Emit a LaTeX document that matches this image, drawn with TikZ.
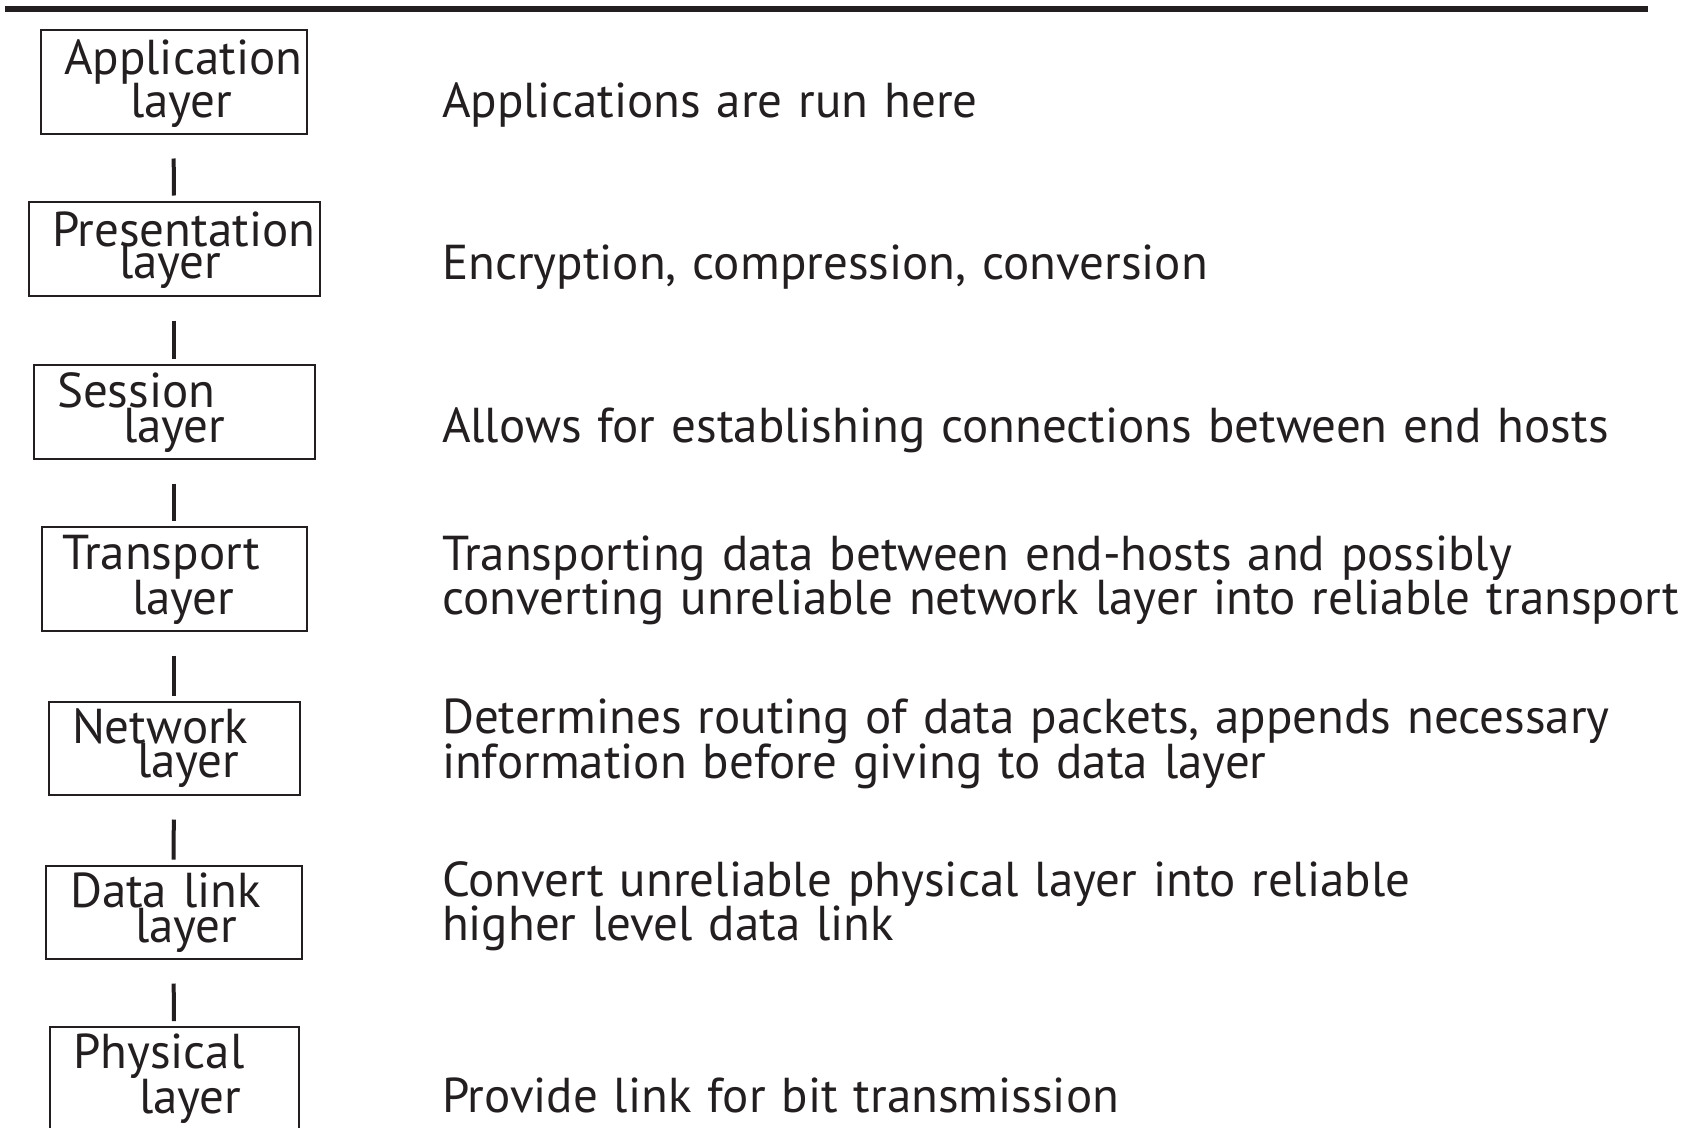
\documentclass[tikz,border=0pt]{standalone}
\usepackage{fontspec}
\setmainfont{PT Sans}[WordSpace=1.22]
\definecolor{ink}{HTML}{231F20}
\begin{document}
\begin{tikzpicture}[x=1pt,y=-1pt,
  box/.style={draw=ink,line width=2pt,rectangle,inner sep=0pt},
  lbl/.style={anchor=base west,inner sep=0pt,outer sep=0pt,text=ink,font=\fontsize{49}{49}\selectfont},
  lblA/.style={lbl,text depth=0pt},
  lblB/.style={lbl,text height=24pt},
  conn/.style={draw=ink,line width=4pt,shorten <=24pt,shorten >=5pt}]
\useasboundingbox (0,0) rectangle (1688,1127);
\clip (0,0) rectangle (1688,1127);
\fill[white] (0,0) rectangle (1688,1127);
% top rule
\coordinate (ruleL) at (5,9);
\coordinate (ruleR) at (1648,9);
\draw[ink,line width=6pt] (ruleL) -- (ruleR);
% boxes
\node[box,minimum width=266pt,minimum height=104pt] (app)  at (173.5,81.5) {};
\node[box,minimum width=291pt,minimum height=94pt]  (pres) at (174,248.5) {};
\node[box,minimum width=281pt,minimum height=94pt]  (sess) at (174,411.5) {};
\node[box,minimum width=265pt,minimum height=104pt] (trans) at (174,578.5) {};
\node[box,minimum width=251pt,minimum height=93pt]  (net)  at (174,748) {};
\node[box,minimum width=256pt,minimum height=93pt]  (data) at (173.5,912) {};
\node[box,minimum width=249pt,minimum height=140pt] (phys) at (174,1097) {};
% box labels
\node[lblA] (appA)  at (64,74)   {Application};
\node[lblB] (appB)  at (130,117) {layer};
\node[lblA] (presA) at (52,246)  {Presentation};
\node[lblB] (presB) at (119,278) {layer};
\node[lblA] (sessA) at (57,407)  {Session};
\node[lblB] (sessB) at (123,442) {layer};
\node[lblA] (transA) at (62,569) {Transport};
\node[lblB] (transB) at (132,614) {layer};
\node[lblA] (netA)  at (72,743)  {Network};
\node[lblB] (netB)  at (137,777) {layer};
\node[lblA] (dataA) at (70,907)  {Data link};
\node[lblB] (dataB) at (135,942) {layer};
\node[lblA] (physA) at (73,1068) {Physical};
\node[lblB] (physB) at (139,1113) {layer};
% connectors
\draw[conn] (app.south) -- (pres.north);
\draw[conn] (pres.south) -- (sess.north);
\draw[conn] (sess.south) -- (trans.north);
\draw[conn] (trans.south) -- (net.north);
\draw[conn] (net.south) -- (data.north);
\draw[conn] (data.south) -- (phys.north);
% descriptions
\node[lbl] (d1)  at (442,117)  {Applications are run here};
\node[lbl] (d2)  at (442,279)  {Encryption, compression, conversion};
\node[lbl] (d3)  at (442,442)  {Allows for establishing connections between end hosts};
\node[lblA] (d4a) at (442,570)  {Transporting data between end-hosts and possibly};
\node[lblB] (d4b) at (442,614)  {converting unreliable network layer into reliable transport};
\node[lblA] (d5a) at (442,733)  {Determines routing of data packets, appends necessary};
\node[lblB] (d5b) at (442,778)  {information before giving to data layer};
\node[lblA] (d6a) at (442,896)  {Convert unreliable physical layer into reliable};
\node[lblB] (d6b) at (442,940)  {higher level data link};
\node[lbl] (d7)  at (442,1112) {Provide link for bit transmission};
\end{tikzpicture}
\end{document}
